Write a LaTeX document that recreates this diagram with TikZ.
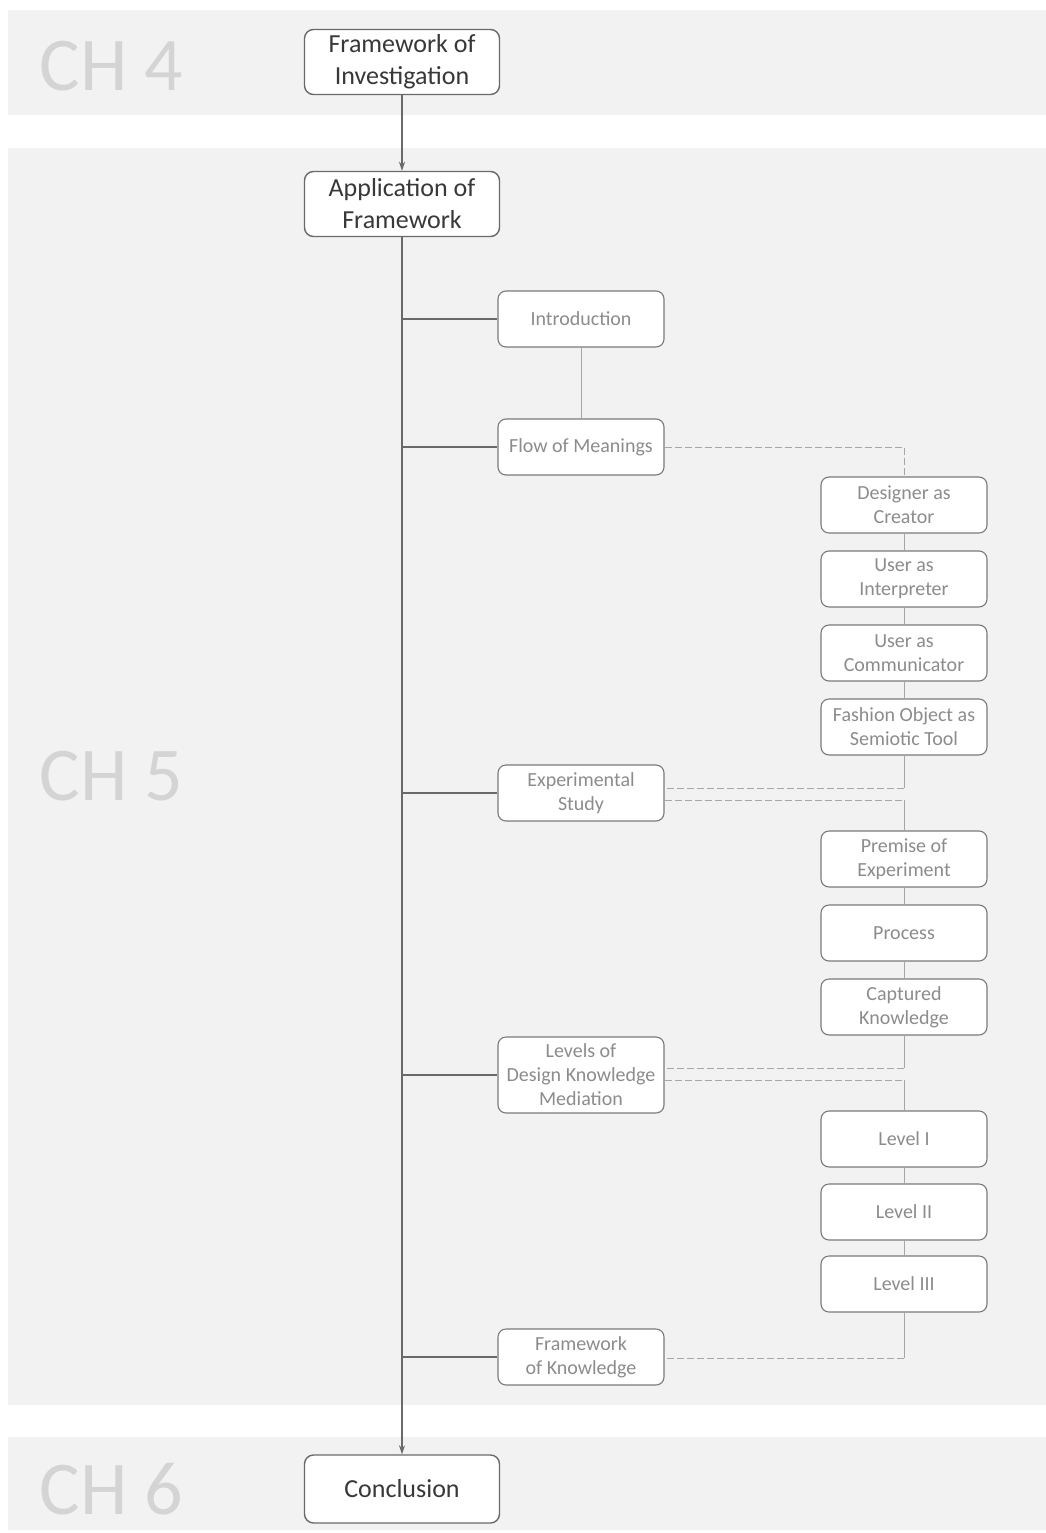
\documentclass[tikz,border=0pt]{standalone}
\usepackage{fontspec}
\setmainfont{Carlito}
\usetikzlibrary{arrows.meta}
\definecolor{band}{HTML}{F2F2F2}
\definecolor{chgray}{HTML}{D4D4D4}
\definecolor{mainline}{HTML}{6A6A6A}
\definecolor{subline}{HTML}{7A7A7A}
\definecolor{subtext}{HTML}{8C8C8C}
\begin{document}
\begin{tikzpicture}
        [x=1pt, y=-1pt,
        mainbox/.style={draw=mainline, fill=white, rounded corners=9pt, line width=1.4pt, minimum width=195pt, minimum height=65pt, align=center, text=black!78, font=\fontsize{26}{32}\selectfont, inner sep=1pt},
        subbox/.style={draw=subline, fill=white, rounded corners=8pt, line width=1.1pt, minimum width=166pt, minimum height=56pt, align=center, text=subtext, font=\fontsize{20}{24}\selectfont, inner sep=1pt},
        chapter/.style={text=chgray, font=\fontsize{76}{76}\selectfont, anchor=west},
        spine/.style={mainline, line width=1.4pt},
        branch/.style={mainline, line width=1.2pt},
        link/.style={black!35, line width=0.9pt},
        reserve/.style={black!35, line width=0.9pt, dash pattern=on 7pt off 3pt}]

        \useasboundingbox (0,0) rectangle (1046,1533);
        \fill[white] (0,0) rectangle (1046,1533);

        % chapter bands
        \fill[band] (8,10) rectangle (1046,115);
        \fill[band] (8,148) rectangle (1046,1405);
        \fill[band] (8,1437) rectangle (1046,1530);
        \node[chapter] (ch4) at (36,66) {CH 4};
        \node[chapter] (ch5) at (36,776) {CH 5};
        \node[chapter] (ch6) at (36,1489) {CH 6};

        % main boxes
        \node[mainbox] (foi) at (402,62) {Framework of\\Investigation};
        \node[mainbox] (app) at (402,204) {Application of\\Framework};
        \node[mainbox, minimum height=68pt] (concl) at (402,1489) {Conclusion};

        % sections of chapter 5
        \node[subbox] (intro) at (581,319) {Introduction};
        \node[subbox] (flow) at (581,447) {Flow of Meanings};
        \node[subbox] (exp) at (581,793) {Experimental\\Study};
        \node[subbox, minimum height=76pt] (levels) at (581,1075) {Levels of\\Design Knowledge\\Mediation};
        \node[subbox] (fok) at (581,1357) {Framework\\of Knowledge};

        % subsections
        \node[subbox] (creator) at (904,505) {Designer as\\Creator};
        \node[subbox] (interp) at (904,579) {User as\\Interpreter};
        \node[subbox] (comm) at (904,653) {User as\\Communicator};
        \node[subbox] (tool) at (904,727) {Fashion Object as\\Semiotic Tool};
        \node[subbox] (premise) at (904,859) {Premise of\\Experiment};
        \node[subbox] (process) at (904,933) {Process};
        \node[subbox] (captured) at (904,1007) {Captured\\Knowledge};
        \node[subbox] (lvone) at (904,1139) {Level I};
        \node[subbox] (lvtwo) at (904,1212) {Level II};
        \node[subbox] (lvthree) at (904,1284) {Level III};

        % spine
        \draw[spine, -{Stealth[length=9pt, width=6pt]}] (foi) -- (app);
        \draw[spine, -{Stealth[length=9pt, width=6pt]}] (app) -- (concl);

        % branches off the spine
        \draw[branch] (app.south |- intro.west) -- (intro.west);
        \draw[branch] (app.south |- flow.west) -- (flow.west);
        \draw[branch] (app.south |- exp.west) -- (exp.west);
        \draw[branch] (app.south |- levels.west) -- (levels.west);
        \draw[branch] (app.south |- fok.west) -- (fok.west);
        \draw[link] (intro) -- (flow);

        % links between subsections
        \draw[link] (creator) -- (interp);
        \draw[link] (interp) -- (comm);
        \draw[link] (comm) -- (tool);
        \draw[link] (premise) -- (process);
        \draw[link] (process) -- (captured);
        \draw[link] (lvone) -- (lvtwo);
        \draw[link] (lvtwo) -- (lvthree);

        % dashed ties to the sections
        \coordinate (tA) at (904,788);
        \coordinate (tB) at (904,800);
        \coordinate (tC) at (904,1068);
        \coordinate (tD) at (904,1080);
        \coordinate (tE) at (904,1358);
        \draw[reserve] (flow.east) -| (creator.north);
        \draw[link] (tool) -- (tA);
        \draw[reserve] (tA) -- (exp.east |- tA);
        \draw[reserve] (exp.east |- tB) -- (tB);
        \draw[link] (tB) -- (premise);
        \draw[link] (captured) -- (tC);
        \draw[reserve] (tC) -- (levels.east |- tC);
        \draw[reserve] (levels.east |- tD) -- (tD);
        \draw[link] (tD) -- (lvone);
        \draw[link] (lvthree) -- (tE);
        \draw[reserve] (tE) -- (fok.east |- tE);

        \end{tikzpicture}
\end{document}
